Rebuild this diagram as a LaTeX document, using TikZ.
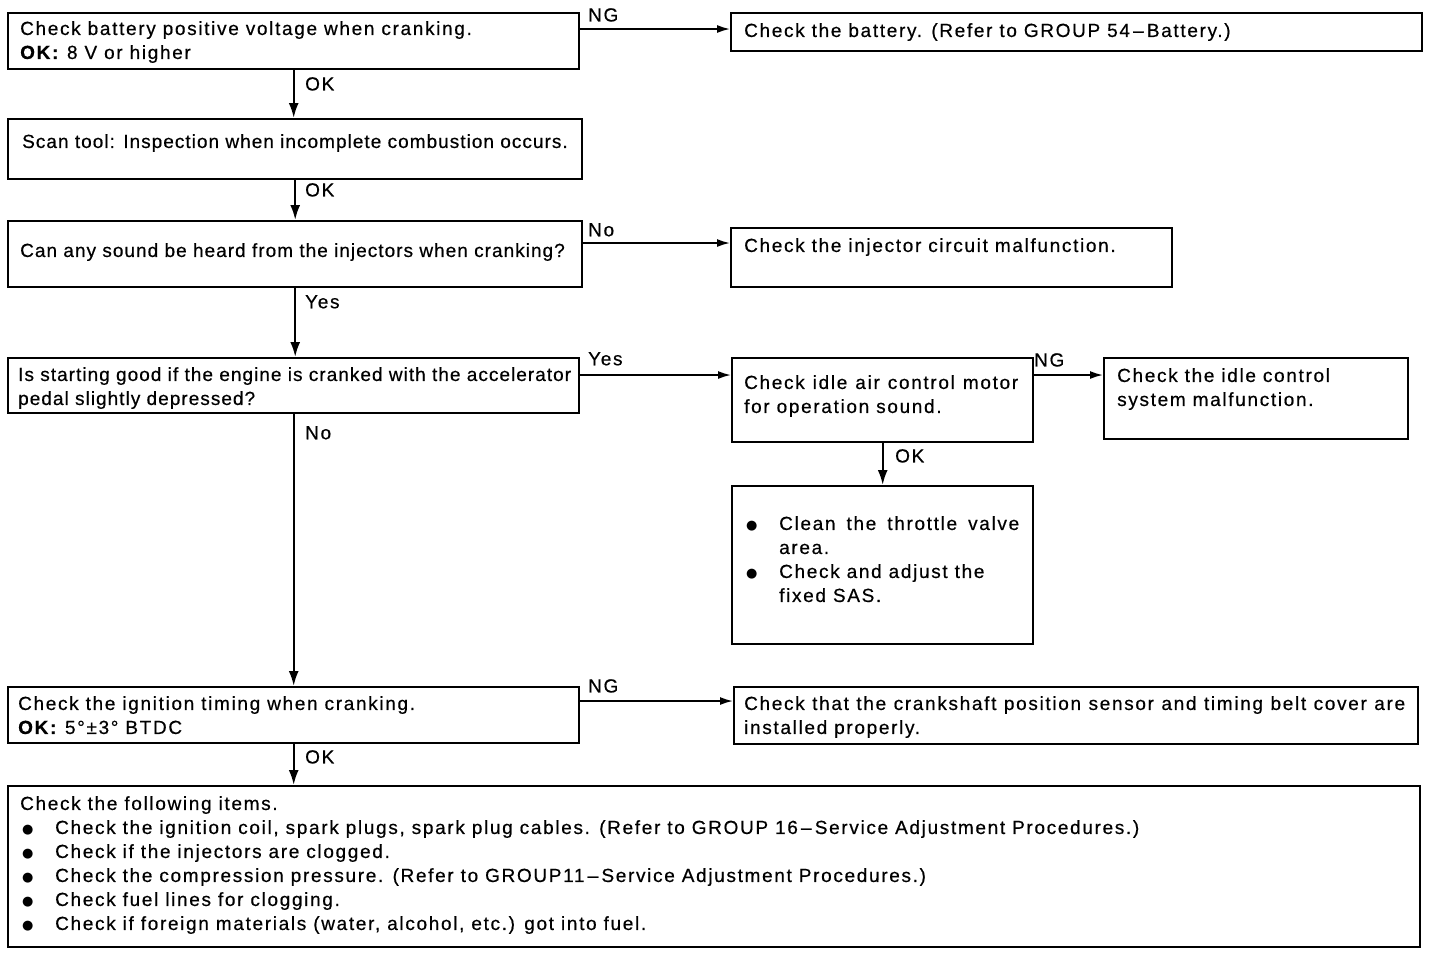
\documentclass[tikz,border=0pt]{standalone}
\usepackage{fontspec}
\setmainfont{Liberation Sans}[LetterSpace=8.8,FakeBold=0.5]
\newfontfamily\dejavu{DejaVu Sans}
\usetikzlibrary{arrows.meta}
\newcommand\myfs{\fontsize{19}{24}\selectfont}
\newcommand\tight{\addfontfeatures{LetterSpace=5.4}}
\newcommand\bul{{\dejavu\fontsize{13}{16}\selectfont ●}}
\begin{document}
\begin{tikzpicture}[x=1pt,y=-1pt,
 box/.style={draw,line width=2.4pt,inner sep=0pt,anchor=north west},
 txt/.style={anchor=north west,inner sep=0pt,align=left,font=\myfs},
 lbl/.style={anchor=north west,inner sep=0pt,font=\myfs},
 arr/.style={line width=2.2pt,-{Latex[length=15pt,width=10pt]}},
 harr/.style={line width=1.7pt,-{Latex[length=13pt,width=8pt]}}]
\fill[white] (0,0) rectangle (1440,954);
\useasboundingbox (0,0) rectangle (1440,954);
% boxes
\node[box,minimum width=571pt,minimum height=56pt] (A) at (7,12) {};
\node[box,minimum width=691pt,minimum height=38pt] (B) at (730,12) {};
\node[box,minimum width=574pt,minimum height=60pt] (C) at (7,118) {};
\node[box,minimum width=574pt,minimum height=66pt] (D) at (7,220) {};
\node[box,minimum width=441pt,minimum height=59pt] (E) at (730,227) {};
\node[box,minimum width=571pt,minimum height=55pt] (F) at (7,357) {};
\node[box,minimum width=301pt,minimum height=84pt] (G) at (731,357) {};
\node[box,minimum width=304pt,minimum height=81pt] (H) at (1103,357) {};
\node[box,minimum width=301pt,minimum height=158pt] (I) at (731,485) {};
\node[box,minimum width=571pt,minimum height=56pt] (J) at (7,686) {};
\node[box,minimum width=684pt,minimum height=57pt] (K) at (733,686) {};
\node[box,minimum width=1412pt,minimum height=161pt] (L) at (7,785) {};
% texts
\node[txt] (tA) at (20,21) {Check battery positive voltage when cranking.\\\textbf{OK:} 8 V or higher};
\node[txt] (tB) at (744,23) {Check the battery. (Refer to GROUP 54\,–\,Battery.)};
\node[txt] (tC) at (22,134) {\tight Scan tool: Inspection when incomplete combustion occurs.};
\node[txt] (tD) at (20,243) {\tight Can any sound be heard from the injectors when cranking?};
\node[txt] (tE) at (744,238) {Check the injector circuit malfunction.};
\node[txt] (tF) at (18,367) {\tight Is starting good if the engine is cranked with the accelerator\\\tight pedal slightly depressed?};
\node[txt] (tG) at (744,375) {\makebox[274pt][s]{Check idle air control motor}\\for operation sound.};
\node[txt] (tH) at (1117,368) {Check the idle control\\system malfunction.};
\node[txt] (tI) at (746,516) {\makebox[33pt][l]{\bul}\makebox[240pt][s]{Clean the throttle valve}\\\hspace*{33pt}area.\\\makebox[33pt][l]{\bul}Check and adjust the\\\hspace*{33pt}fixed SAS.};
\node[txt] (tJ) at (18,696) {Check the ignition timing when cranking.\\\textbf{OK:} 5°±3° BTDC};
\node[txt] (tK) at (744,696) {\makebox[661pt][s]{Check that the crankshaft position sensor and timing belt cover are}\\installed properly.};
\node[txt] (tL) at (20,796) {Check the following items.\\
\hspace*{2pt}\makebox[33pt][l]{\bul}Check the ignition coil, spark plugs, spark plug cables. (Refer to GROUP 16\,–\,Service Adjustment Procedures.)\\
\hspace*{2pt}\makebox[33pt][l]{\bul}Check if the injectors are clogged.\\
\hspace*{2pt}\makebox[33pt][l]{\bul}Check the compression pressure. (Refer to GROUP11\,–\,Service Adjustment Procedures.)\\
\hspace*{2pt}\makebox[33pt][l]{\bul}Check fuel lines for clogging.\\
\hspace*{2pt}\makebox[33pt][l]{\bul}Check if foreign materials (water, alcohol, etc.) got into fuel.};
% connectors
\path (A.north east) ++(0,17) coordinate (a1);
\draw[harr] (a1) -- (a1 -| B.west);
\path (D.north east) ++(0,23) coordinate (d1);
\draw[harr] (d1) -- (d1 -| E.west);
\path (F.north east) ++(0,18) coordinate (f1);
\draw[harr] (f1) -- (f1 -| G.west);
\path (G.north east) ++(0,18) coordinate (g1);
\draw[harr] (g1) -- (g1 -| H.west);
\path (J.north east) ++(0,15) coordinate (j1);
\draw[harr] (j1) -- (j1 -| K.west);
\draw[arr] (A.south) -- (A.south |- C.north);
\draw[arr] (C.south) -- (C.south |- D.north);
\draw[arr] (D.south) -- (D.south |- F.north);
\draw[arr] (F.south) -- (F.south |- J.north);
\draw[arr] (J.south) -- (J.south |- L.north);
\draw[arr] (G.south) -- (G.south |- I.north);
% labels
\node[lbl] (l1) at (588,8) {NG};
\node[lbl] (l2) at (305,77) {OK};
\node[lbl] (l3) at (305,183) {OK};
\node[lbl] (l4) at (588,223) {No};
\node[lbl] (l5) at (305,295) {Yes};
\node[lbl] (l6) at (588,352) {Yes};
\node[lbl] (l7) at (1034,353) {NG};
\node[lbl] (l8) at (895,449) {OK};
\node[lbl] (l9) at (305,426) {No};
\node[lbl] (l10) at (588,679) {NG};
\node[lbl] (l11) at (305,750) {OK};
\end{tikzpicture}
\end{document}
